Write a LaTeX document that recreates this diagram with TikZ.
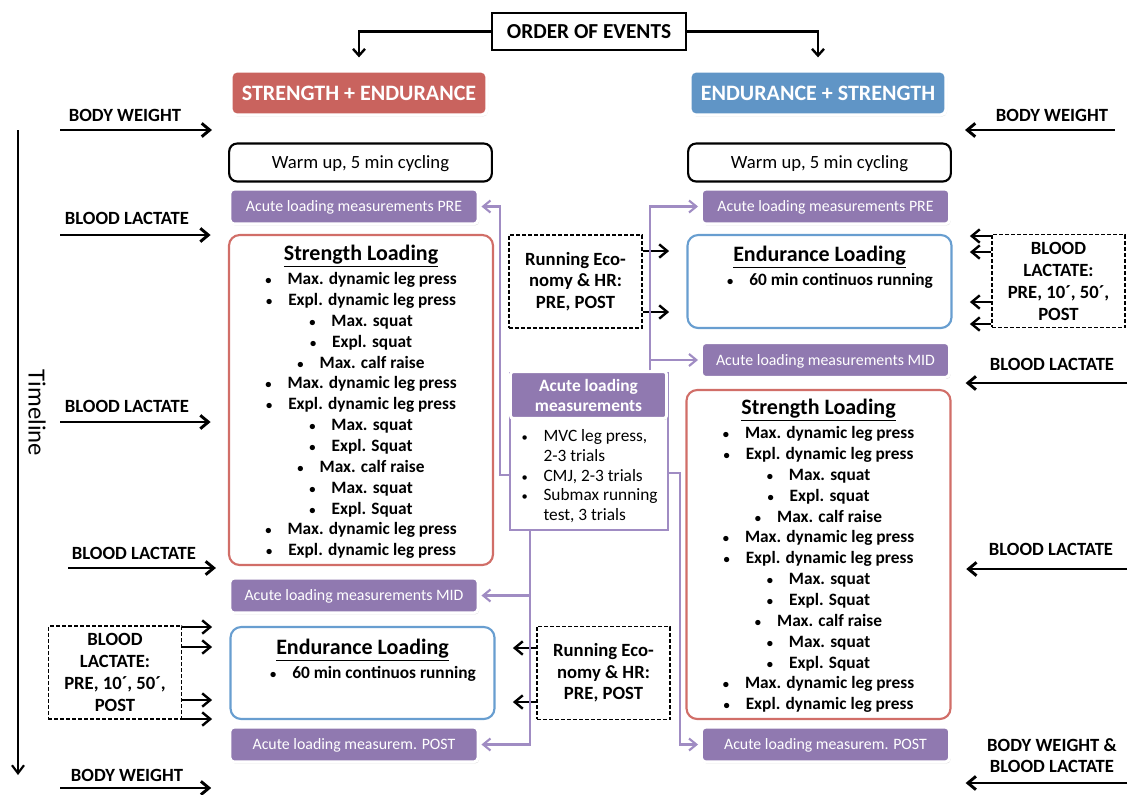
\documentclass[tikz,border=0pt]{standalone}
\usepackage{fontspec}
\usepackage{graphicx}
\setmainfont{Carlito}
\usetikzlibrary{arrows.meta,shadows}

\definecolor{sered}{RGB}{201,99,94}
\definecolor{seredline}{RGB}{209,110,104}
\definecolor{esblue}{RGB}{96,149,198}
\definecolor{esblueline}{RGB}{104,158,208}
\definecolor{acpurple}{RGB}{144,121,176}
\definecolor{acline}{RGB}{160,140,195}

\newcommand{\blt}{\scalebox{0.72}{\textbullet}\hspace{12pt}}
\newcommand{\mblt}{\makebox[16.5pt][l]{\scalebox{0.72}{\textbullet}}}

\tikzset{every picture/.style={line width=0.75pt}}

\begin{document}
\begin{tikzpicture}[x=0.75pt,y=0.75pt,yscale=-1,xscale=1,
	headbox/.style={rounded corners=4pt, draw=white, line width=2.5pt, text=white, font=\bfseries\fontsize{16.5}{19}\selectfont, minimum width=192pt, minimum height=33pt, drop shadow={shadow xshift=0.8pt, shadow yshift=-1.2pt, opacity=0.3}},
	acbox/.style={rounded corners=3pt, fill=acpurple, draw=white, line width=2.2pt, text=white, font=\fontsize{11.9}{13}\selectfont, text depth=0.5pt, minimum width=186pt, minimum height=26pt, drop shadow={shadow xshift=0.8pt, shadow yshift=-1.2pt, opacity=0.3}},
	warmbox/.style={rounded corners=6pt, draw=black, line width=1.6pt, font=\fontsize{14}{16}\selectfont, text depth=0pt, minimum width=197pt, minimum height=28.5pt},
	loadbox/.style={rounded corners=8pt, line width=1.6pt, fill=white, minimum width=198pt},
	loadtitle/.style={font=\bfseries\fontsize{16.5}{19}\selectfont},
	loadlist/.style={anchor=north, inner sep=0pt, align=center, font=\bfseries\fontsize{13}{15.64}\selectfont},
	dashbox/.style={draw, dash pattern=on 3pt off 1.5pt, line width=1.1pt, align=center, minimum width=100pt, minimum height=69.5pt, font=\bfseries\fontsize{14}{16}\selectfont},
	sidelabel/.style={font=\bfseries\fontsize{14}{16}\selectfont, align=center},
	sidearrow/.style={-{Straight Barb[length=6pt,width=10pt]}, line width=2.2pt, shorten >=13pt},
	smallarrow/.style={-{Straight Barb[length=6pt,width=10pt]}, line width=1.8pt, shorten >=13pt},
	acarrow/.style={draw=acline, -{Straight Barb[length=5.5pt,width=9pt]}, line width=1.6pt, shorten >=1.5pt},
]
\useasboundingbox (0,0) rectangle (1129,794);

%Order of events
\node[draw, line width=1.5pt, font=\bfseries\fontsize{16}{19}\selectfont, minimum width=145.5pt, minimum height=27.75pt] (order) at (589,31.5) {ORDER OF EVENTS};
\node[headbox, fill=sered] (se) at (359,93) {STRENGTH + ENDURANCE};
\node[headbox, fill=esblue] (es) at (818,93) {ENDURANCE + STRENGTH};
\draw[-{Straight Barb[length=5pt,width=9pt]}, line width=1.8pt, shorten >=9pt] (order.west) -| (se.north);
\draw[-{Straight Barb[length=5pt,width=9pt]}, line width=1.8pt, shorten >=9pt] (order.east) -| (es.north);

%Left column: strength + endurance
\node[warmbox] (lwarm) at (360.5,162.5) {Warm up, 5 min cycling};
\node[acbox] (lpre) at (354,206.5) {Acute loading measurements PRE};
\node[loadbox, draw=seredline, minimum height=247.5pt] (lstr) at (361,400) {};
% Text Node
\node[loadtitle] (lstrttl) at (361,256) {\underline{Strength Loading}};
% Text Node
\node[loadlist] (lstrlist) at (361,272) {\blt Max. dynamic leg press\\ \blt Expl. dynamic leg press\\ \blt Max. squat\\ \blt Expl. squat\\ \blt Max. calf raise\\ \blt Max. dynamic leg press\\ \blt Expl. dynamic leg press\\ \blt Max. squat\\ \blt Expl. Squat\\ \blt Max. calf raise\\ \blt Max. squat\\ \blt Expl. Squat\\ \blt Max. dynamic leg press\\ \blt Expl. dynamic leg press};
\node[acbox] (lmid) at (354,595.5) {Acute loading measurements MID};
\node[loadbox, draw=esblueline, minimum height=69pt] (lend) at (362.5,673) {};
% Text Node
\node[loadtitle] (lendttl) at (362.5,650) {\underline{Endurance Loading}};
% Text Node
\node[loadlist] (lendlist) at (373,666) {\blt 60 min continuos running};
\node[acbox] (lpost) at (354,744.5) {Acute loading measurem. POST};

%Right column: endurance + strength
\node[warmbox] (rwarm) at (819.5,162.5) {Warm up, 5 min cycling};
\node[acbox] (rpre) at (825.5,206.5) {Acute loading measurements PRE};
\node[loadbox, draw=esblueline, minimum height=69.75pt] (rend) at (819.5,281.5) {};
% Text Node
\node[loadtitle] (rendttl) at (819.5,257) {\underline{Endurance Loading}};
% Text Node
\node[loadlist] (rendlist) at (830,273) {\blt 60 min continuos running};
\node[acbox] (rmid) at (825.5,360) {Acute loading measurements MID};
\node[loadbox, draw=seredline, minimum height=246.75pt] (rstr) at (818.5,554.5) {};
% Text Node
\node[loadtitle] (rstrttl) at (818.5,410) {\underline{Strength Loading}};
% Text Node
\node[loadlist] (rstrlist) at (818.5,426) {\blt Max. dynamic leg press\\ \blt Expl. dynamic leg press\\ \blt Max. squat\\ \blt Expl. squat\\ \blt Max. calf raise\\ \blt Max. dynamic leg press\\ \blt Expl. dynamic leg press\\ \blt Max. squat\\ \blt Expl. Squat\\ \blt Max. calf raise\\ \blt Max. squat\\ \blt Expl. Squat\\ \blt Max. dynamic leg press\\ \blt Expl. dynamic leg press};
\node[acbox] (rpost) at (825.5,744.5) {Acute loading measurem. POST};

%Acute loading measurements (middle)
\node[draw=acline, line width=1.5pt, fill=white, minimum width=118.5pt, minimum height=117.75pt] (mbody) at (589,451.5) {};
\node[rounded corners=2pt, fill=acpurple, draw=white, line width=2.2pt, text=white, align=center, font=\bfseries\fontsize{13}{15}\selectfont, minimum width=117pt, minimum height=35pt, drop shadow={shadow xshift=0.8pt, shadow yshift=-1.2pt, opacity=0.3}] (mhead) at (588.5,395) {Acute loading\\measurements};
% Text Node
\node[anchor=north west, inner sep=0pt, align=left, font=\fontsize{13}{14.8}\selectfont] (mlist) at (521,429) {\mblt MVC leg press,\\ \hspace*{16.5pt}2-3 trials\\ \mblt CMJ, 2-3 trials\\ \mblt Submax running\\ \hspace*{16.5pt}test, 3 trials};

%Dashed boxes
\node[dashbox] (ureco) at (575.5,281.5) {Running Eco-\\nomy \& HR:\\PRE, POST};
\node[dashbox] (lreco) at (603.5,673) {Running Eco-\\nomy \& HR:\\PRE, POST};
\node[dashbox, font=\bfseries\fontsize{14}{16.5}\selectfont] (lbl) at (115,672.5) {BLOOD\\LACTATE:\\PRE, 10´, 50´,\\POST};
\node[dashbox, font=\bfseries\fontsize{14}{16.5}\selectfont] (rbl) at (1058.5,281) {BLOOD\\LACTATE:\\PRE, 10´, 50´,\\POST};

\draw[smallarrow] (ureco.east |- 0,251) -- (rend.west |- 0,251);
\draw[smallarrow] (ureco.east |- 0,312) -- (rend.west |- 0,312);
\draw[smallarrow] (lreco.west |- 0,648) -- (lend.east |- 0,648);
\draw[smallarrow] (lreco.west |- 0,702) -- (lend.east |- 0,702);
\draw[smallarrow] (lbl.east |- 0,627) -- (lend.west |- 0,627);
\draw[smallarrow] (lbl.east |- 0,647) -- (lend.west |- 0,647);
\draw[smallarrow] (lbl.east |- 0,700) -- (lend.west |- 0,700);
\draw[smallarrow] (lbl.east |- 0,719) -- (lend.west |- 0,719);
\draw[smallarrow] (rbl.west |- 0,236) -- (rend.east |- 0,236);
\draw[smallarrow] (rbl.west |- 0,252) -- (rend.east |- 0,252);
\draw[smallarrow] (rbl.west |- 0,302) -- (rend.east |- 0,302);
\draw[smallarrow] (rbl.west |- 0,324) -- (rend.east |- 0,324);

%Purple connectors
\draw[acarrow] (mbody.west |- 0,475) -- ++(-9,0) |- (lpre.east);
\draw[acarrow] (mhead.north -| 650,0) |- (rpre.west);
\draw[acarrow] (mhead.north -| 650,0) |- (rmid.west);
\draw[acarrow] (mbody.east |- 0,473) -- ++(11,0) |- (rpost.west);
\draw[acarrow] (mbody.south -| 530,0) |- (lmid.east);
\draw[acarrow] (mbody.south -| 530,0) |- (lpost.east);

%Timeline
\coordinate (tltop) at (18,130);
\coordinate (tlbot) at (18,775);
\draw[-{Straight Barb[length=6pt,width=9pt]}, line width=1.6pt] (tltop) -- (tlbot);
% Text Node
\node[rotate=-90, font=\fontsize{18.5}{20}\selectfont] (tltxt) at (37,413) {Timeline};

%Side labels, left
\node[sidelabel] (lbwtxt) at (125,115) {BODY WEIGHT};
\node[sidelabel] (lbl1txt) at (127,218) {BLOOD LACTATE};
\node[sidelabel] (lbl2txt) at (127,406) {BLOOD LACTATE};
\node[sidelabel] (lbl3txt) at (134,553) {BLOOD LACTATE};
\node[sidelabel] (lbw2txt) at (127,775) {BODY WEIGHT};
\coordinate (lbwa) at (60,130);
\coordinate (lbl1a) at (60,235);
\coordinate (lbl2a) at (60,422);
\coordinate (lbl3a) at (68,568);
\coordinate (lbw2a) at (60,788);
\draw[sidearrow] (lbwa) -- (se.west |- lbwa);
\draw[sidearrow] (lbl1a) -- (lstr.west |- lbl1a);
\draw[sidearrow] (lbl2a) -- (lstr.west |- lbl2a);
\draw[sidearrow, shorten >=9pt] (lbl3a) -- (lstr.west |- lbl3a);
\draw[sidearrow] (lbw2a) -- (lpost.west |- lbw2a);

%Side labels, right
\node[sidelabel] (rbwtxt) at (1052,115) {BODY WEIGHT};
\node[sidelabel] (rbl1txt) at (1052,364) {BLOOD LACTATE};
\node[sidelabel] (rbl2txt) at (1051,549) {BLOOD LACTATE};
\node[sidelabel] (rbw2txt) at (1052,755.5) {BODY WEIGHT \&\\BLOOD LACTATE};
\coordinate (rbwa) at (1115,130);
\coordinate (rbl1a) at (1127,383);
\coordinate (rbl2a) at (1127,569);
\coordinate (rbw2a) at (1127,783);
\draw[sidearrow] (rbwa) -- (es.east |- rbwa);
\draw[sidearrow, shorten >=11pt] (rbl1a) -- (rmid.east |- rbl1a);
\draw[sidearrow, shorten >=11pt] (rbl2a) -- (rstr.east |- rbl2a);
\draw[sidearrow, shorten >=11pt] (rbw2a) -- (rpost.east |- rbw2a);

\end{tikzpicture}
\end{document}
